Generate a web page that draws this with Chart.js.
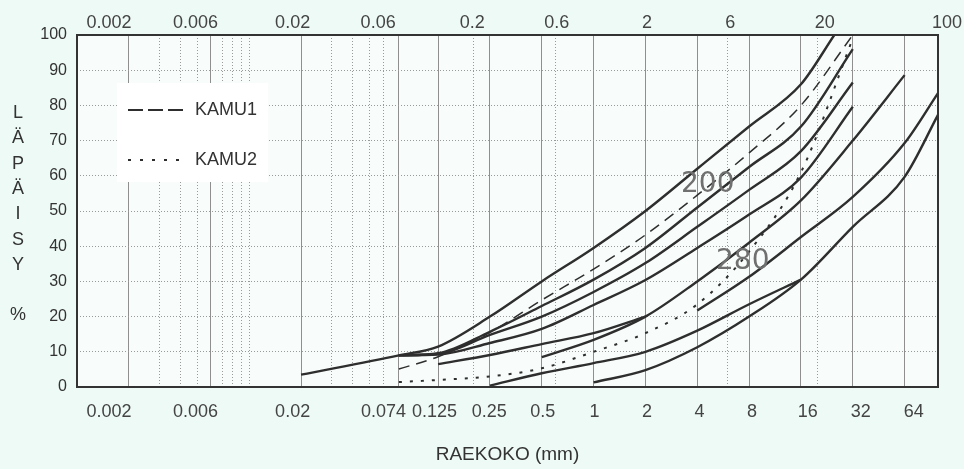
<!DOCTYPE html>
<html>
<head>
<meta charset="utf-8">
<script src="https://cdn.jsdelivr.net/npm/chart.js@4.4.0/dist/chart.umd.min.js"></script>
<style>
  html, body { margin: 0; padding: 0; background: #eefaf6; }
  #wrap { width: 964px; height: 469px; }
</style>
</head>
<body>
<div id="wrap"><canvas id="gradingChart" width="964" height="469"></canvas></div>
<script>
// seulakoot (mm) joihin käyrien pisteet on luettu
const sieves = [0.02, 0.074, 0.125, 0.25, 0.5, 1, 2, 4, 8, 16, 25, 32, 64, 100];

// ohjekäyrät (läpäisy %), null = ei pistettä
const curveA = [3.5, 9, 11.5, 20, 30, 39.5, 50, 62, 74, 86, 100, null, null, null];
const curveB = [null, 9, 9.6, 15.7, 23, 30.5, 39.5, 51, 62.5, 74, null, 96, null, null];
const curveC = [null, 9, 9.4, 14.8, 20, 27, 35.2, 45.5, 56, 67, null, 86.5, null, null];
const curveD = [null, 9, 9.2, 12.5, 16.5, 23.3, 30.4, 39.5, 49, 59.5, null, 79.6, null, null];
const curveE = [null, null, 6.5, 9.1, 12.2, 15.3, 20, null, null, null, null, null, null, null];
const curveF = [null, null, null, null, 8.5, 13.4, 20, 30, 41, 53, null, 70, 88.6, null];
const curveG = [null, null, null, 0.4, 3.9, 6.8, 10, 16, 23.5, 30.5, null, null, null, null];
const curveH = [null, null, null, null, null, 1.3, 4.8, 11.3, 20, 30.5, null, 45.5, 59.7, 77.3];
const curveI = [null, null, null, null, null, null, null, 21.7, 31.3, 42.6, null, 54, 69.3, 83.5];

// näytteet
const kamu1 = [null, 5.1, 8.6, 15.5, 24.7, 33.5, 43.2, 54.5, 66.5, 80, null, 100, null, null];
const kamu2 = [null, 1.4, 2, 3, 5.3, 10, 15.3, 23.5, 38.5, 61, null, 99, null, null];

// akselit
const bottomTicks = [0.002, 0.006, 0.02, 0.074, 0.125, 0.25, 0.5, 1, 2, 4, 8, 16, 32, 64];
const topLabels = [0.002, 0.006, 0.02, 0.06, 0.2, 0.6, 2, 6, 20, 100];
const topGrid = [0.002, 0.003, 0.004, 0.005, 0.006, 0.007, 0.008, 0.009, 0.01,
                 0.02, 0.03, 0.04, 0.05, 0.06, 0.2, 0.6, 2, 6, 20, 100];
const yTitle = ['L', 'Ä', 'P', 'Ä', 'I', 'S', 'Y', '', '%'];
const curveLabels = [
    { text: '200', x: 4.6, y: 57.4 },
    { text: '280', x: 7.35, y: 35.5 }
];

const FONT = '"Liberation Sans", Arial, sans-serif';
const INK = '#2e2e2e';

function points(values) {
    return sieves.map((s, i) => ({ x: s, y: values[i] })).filter(p => p.y !== null);
}

function solid(values) {
    return { data: points(values), borderColor: INK, borderWidth: 2.4, showLine: true,
             pointRadius: 0, cubicInterpolationMode: 'monotone' };
}

const datasets = [curveA, curveB, curveC, curveD, curveE, curveF, curveG, curveH, curveI].map(solid);
datasets.push({ label: 'KAMU1', data: points(kamu1), borderColor: INK, borderWidth: 1.5,
                borderDash: [11, 7], showLine: true, pointRadius: 0, cubicInterpolationMode: 'monotone' });
datasets.push({ label: 'KAMU2', data: points(kamu2), borderColor: INK, borderWidth: 2,
                borderDash: [3, 8], showLine: true, pointRadius: 0, cubicInterpolationMode: 'monotone' });

const legendItems = [
    { label: 'KAMU1', dash: [15, 5], width: 1.8 },
    { label: 'KAMU2', dash: [3, 9], width: 2 }
];

// vaaka-akselin tekstit: vasemmalla oikealle tasattu, oikealla vasemmalle (kuten alkuperäisessä)
function drawXLabels(ctx, area, scale, values, baseline, maxRight) {
    const span = area.right - area.left;
    const items = values.map(v => {
        const txt = String(v);
        const x = scale.getPixelForValue(v);
        const w = ctx.measureText(txt).width;
        const f = (x - area.left) / span;
        return { txt, w, left: Math.min(x - w * (1 - f), maxRight - w) };
    });
    for (let i = items.length - 2; i >= 0; i--) {
        const limit = items[i + 1].left - 6;
        if (items[i].left + items[i].w > limit) items[i].left = limit - items[i].w;
    }
    items.forEach(it => ctx.fillText(it.txt, it.left, baseline));
}

const decorPlugin = {
    id: 'decor',
    beforeDraw(chart) {
        const { ctx, chartArea: a } = chart;
        ctx.save();
        ctx.fillStyle = '#eefaf6';
        ctx.fillRect(0, 0, chart.width, chart.height);
        ctx.fillStyle = '#f8fdfb';
        ctx.fillRect(a.left, a.top, a.right - a.left, a.bottom - a.top);
        ctx.restore();
    },
    beforeDatasetsDraw(chart) {
        const { ctx, chartArea: a, scales } = chart;
        ctx.save();
        // selitelaatikko
        const bx = a.left + 40, by = a.top + 48;
        ctx.fillStyle = '#ffffff';
        ctx.fillRect(bx, by, 151, 99);
        ctx.strokeStyle = INK;
        ctx.fillStyle = '#333';
        ctx.font = '18px ' + FONT;
        ctx.textBaseline = 'middle';
        legendItems.forEach((item, i) => {
            const y = by + 27 + i * 50;
            ctx.lineWidth = item.width;
            ctx.setLineDash(item.dash);
            ctx.beginPath();
            ctx.moveTo(bx + 11, y);
            ctx.lineTo(bx + 67, y);
            ctx.stroke();
            ctx.fillText(item.label, bx + 78, y);
        });
        // akselien numerot
        ctx.fillStyle = '#444';
        ctx.font = '18px ' + FONT;
        ctx.textBaseline = 'alphabetic';
        ctx.textAlign = 'left';
        drawXLabels(ctx, a, scales.x, bottomTicks, a.bottom + 30, chart.width - 2);
        drawXLabels(ctx, a, scales.x2, topLabels, a.top - 7, chart.width - 2);
        ctx.restore();
    },
    afterDatasetsDraw(chart) {
        const { ctx, chartArea: a, scales } = chart;
        ctx.save();
        ctx.font = '28px "DejaVu Sans", sans-serif';
        ctx.fillStyle = '#707070';
        ctx.textAlign = 'center';
        ctx.textBaseline = 'middle';
        curveLabels.forEach(l => {
            ctx.fillText(l.text, scales.x.getPixelForValue(l.x), scales.y.getPixelForValue(l.y));
        });
        ctx.strokeStyle = '#333';
        ctx.lineWidth = 2;
        ctx.setLineDash([]);
        ctx.strokeRect(a.left, a.top, a.right - a.left, a.bottom - a.top);
        // pystyakselin otsikko kirjain kerrallaan
        ctx.fillStyle = '#333';
        ctx.font = '18px ' + FONT;
        ctx.textBaseline = 'alphabetic';
        yTitle.forEach((ch, i) => ctx.fillText(ch, 18, 118 + i * 25.3));
        ctx.restore();
    }
};

const ctx = document.getElementById('gradingChart').getContext('2d');
new Chart(ctx, {
    type: 'scatter',
    data: { datasets: datasets },
    plugins: [decorPlugin],
    options: {
        responsive: false,
        animation: false,
        events: [],
        layout: { padding: { left: 0, right: 26, top: 0, bottom: 0 } },
        plugins: { legend: { display: false }, tooltip: { enabled: false } },
        scales: {
            x: {
                type: 'logarithmic',
                position: 'bottom',
                min: 0.001,
                max: 100,
                afterBuildTicks: s => { s.ticks = bottomTicks.map(v => ({ value: v })); },
                afterFit: s => { s.height = 82; },
                ticks: { display: false },
                grid: { color: '#8f8f8f', lineWidth: 1, drawTicks: false },
                border: { display: false },
                title: {
                    display: true, text: 'RAEKOKO (mm)', color: '#333',
                    font: { family: FONT, size: 19 }, padding: { top: 0, bottom: 3 }
                }
            },
            x2: {
                type: 'logarithmic',
                position: 'top',
                min: 0.001,
                max: 100,
                afterBuildTicks: s => { s.ticks = topGrid.map(v => ({ value: v })); },
                afterFit: s => { s.height = 35; },
                ticks: { display: false },
                grid: {
                    color: c => (bottomTicks.includes(c.tick.value) || c.tick.value >= 100) ? 'rgba(0,0,0,0)' : '#9a9a9a',
                    drawTicks: false
                },
                border: { display: false, dash: [1, 2] }
            },
            y: {
                type: 'linear',
                min: 0,
                max: 100,
                afterFit: s => { s.width = 77; },
                ticks: { stepSize: 10, padding: 10, color: '#333', font: { family: FONT, size: 16 } },
                grid: {
                    color: c => (c.tick.value === 0 || c.tick.value === 100) ? 'rgba(0,0,0,0)' : '#9a9a9a',
                    drawTicks: false
                },
                border: { display: false, dash: [1, 2] }
            }
        }
    }
});
</script>
</body>
</html>
